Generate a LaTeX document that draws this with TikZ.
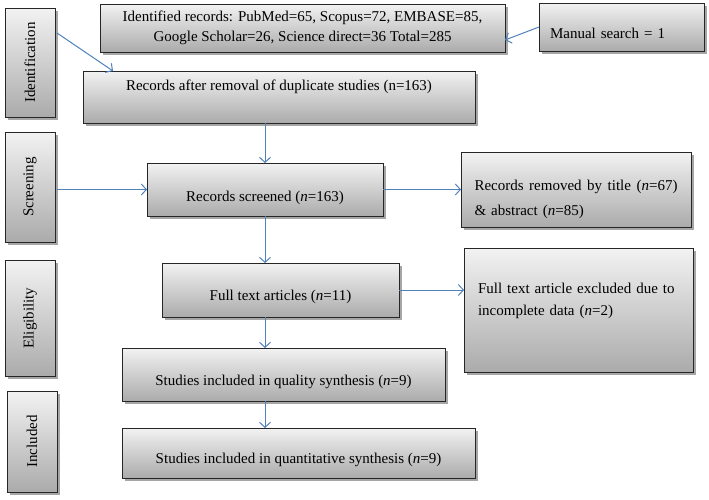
\documentclass[tikz,border=0pt]{standalone}
\usepackage{fontspec}
\setmainfont{Liberation Serif}
\usetikzlibrary{arrows.meta,shadows,calc}
\definecolor{arrowblue}{HTML}{4F81BD}
\newcommand\myfs{\fontsize{15}{20}\selectfont}
\begin{document}
\begin{tikzpicture}[x=1pt,y=-1pt,
  boxstyle/.style={draw=black!85, line width=0.9pt, top color=black!5, bottom color=black!33,
    drop shadow={shadow xshift=2.5pt, shadow yshift=-2.5pt, opacity=0.35, fill=black},
    font=\myfs, inner sep=0pt, outer sep=0pt},
  sidetext/.style={rotate=90, font=\myfs, inner sep=0pt},
  conn/.style={draw=arrowblue, line width=1pt, -{Straight Barb[length=5pt,width=11pt]}}
]
\useasboundingbox (0,0) rectangle (709,499);

% side boxes
\node[boxstyle, minimum width=50, minimum height=109] (idb) at (30,62.5) {};
\node[sidetext] (idt) at (idb.center) {Identification};
\node[boxstyle, minimum width=50, minimum height=110] (scb) at (30,187) {};
\node[sidetext] (sct) at (scb.center) {Screening};
\node[boxstyle, minimum width=50, minimum height=116] (elb) at (30,318) {};
\node[sidetext] (elt) at (elb.center) {Eligibility};
\node[boxstyle, minimum width=50, minimum height=101] (inb) at (32,441.5) {};
\node[sidetext] (int) at (inb.center) {Included};

% main boxes
\node[boxstyle, minimum width=405, minimum height=48, align=center] (top) at (302.5,28)
  {Identified records: PubMed=65, Scopus=72, EMBASE=85,\\Google Scholar=26, Science direct=36 Total=285};
\node[boxstyle, minimum width=165, minimum height=48, text width=143, align=left,
  text height=25pt, text depth=3pt] (man) at (621.5,27) {Manual search = 1};
\node[boxstyle, minimum width=392, minimum height=52, text height=10.5pt, text depth=24.5pt] (rem) at (279,97)
  {Records after removal of duplicate studies (n=163)};
\node[boxstyle, minimum width=236, minimum height=53, text height=26pt, text depth=3pt] (scr) at (265,189.5)
  {Records screened (\textit{n}=163)};
\node[boxstyle, minimum width=230, minimum height=75, text width=203, align=left,
  text height=30pt, font=\fontsize{15}{25}\selectfont] (rbt) at (576,189.5)
  {Records\hfill removed\hfill by\hfill title\hfill (\textit{n}=67)\\\& abstract (\textit{n}=85)};
\node[boxstyle, minimum width=237, minimum height=54, text height=23pt, text depth=3pt] (fta) at (280.5,290)
  {Full text articles (\textit{n}=11)};
\node[boxstyle, minimum width=229, minimum height=124, text width=201, align=left,
  text depth=44.4pt, font=\fontsize{15}{22}\selectfont] (fte) at (578.5,310)
  {Full text article excluded due to\\incomplete data (\textit{n}=2)};
\node[boxstyle, minimum width=323, minimum height=53, text height=24pt, text depth=3pt] (sq) at (283.5,374.5)
  {Studies included in quality synthesis (\textit{n}=9)};
\node[boxstyle, minimum width=353, minimum height=50, text height=23pt, text depth=3pt] (sqt) at (298.5,453)
  {Studies included in quantitative synthesis (\textit{n}=9)};

% connectors
\draw[conn] ([xshift=2pt,yshift=29.5pt]idb.east) -- ([xshift=30pt]rem.north west);
\draw[conn] (man.west) -- ([yshift=-12pt]top.east);
\draw[conn] ([xshift=2pt]scb.east |- scr.west) -- (scr.west);
\draw[conn] (scr.north |- rem.south) -- (scr.north);
\draw[conn] (scr.east) -- (rbt.west);
\draw[conn] (scr.south) -- (scr.south |- fta.north);
\draw[conn] (fta.east) -- (fta.east -| fte.west);
\draw[conn] (scr.south |- fta.south) -- (scr.south |- sq.north);
\draw[conn] (scr.south |- sq.south) -- (scr.south |- sqt.north);
\end{tikzpicture}
\end{document}
